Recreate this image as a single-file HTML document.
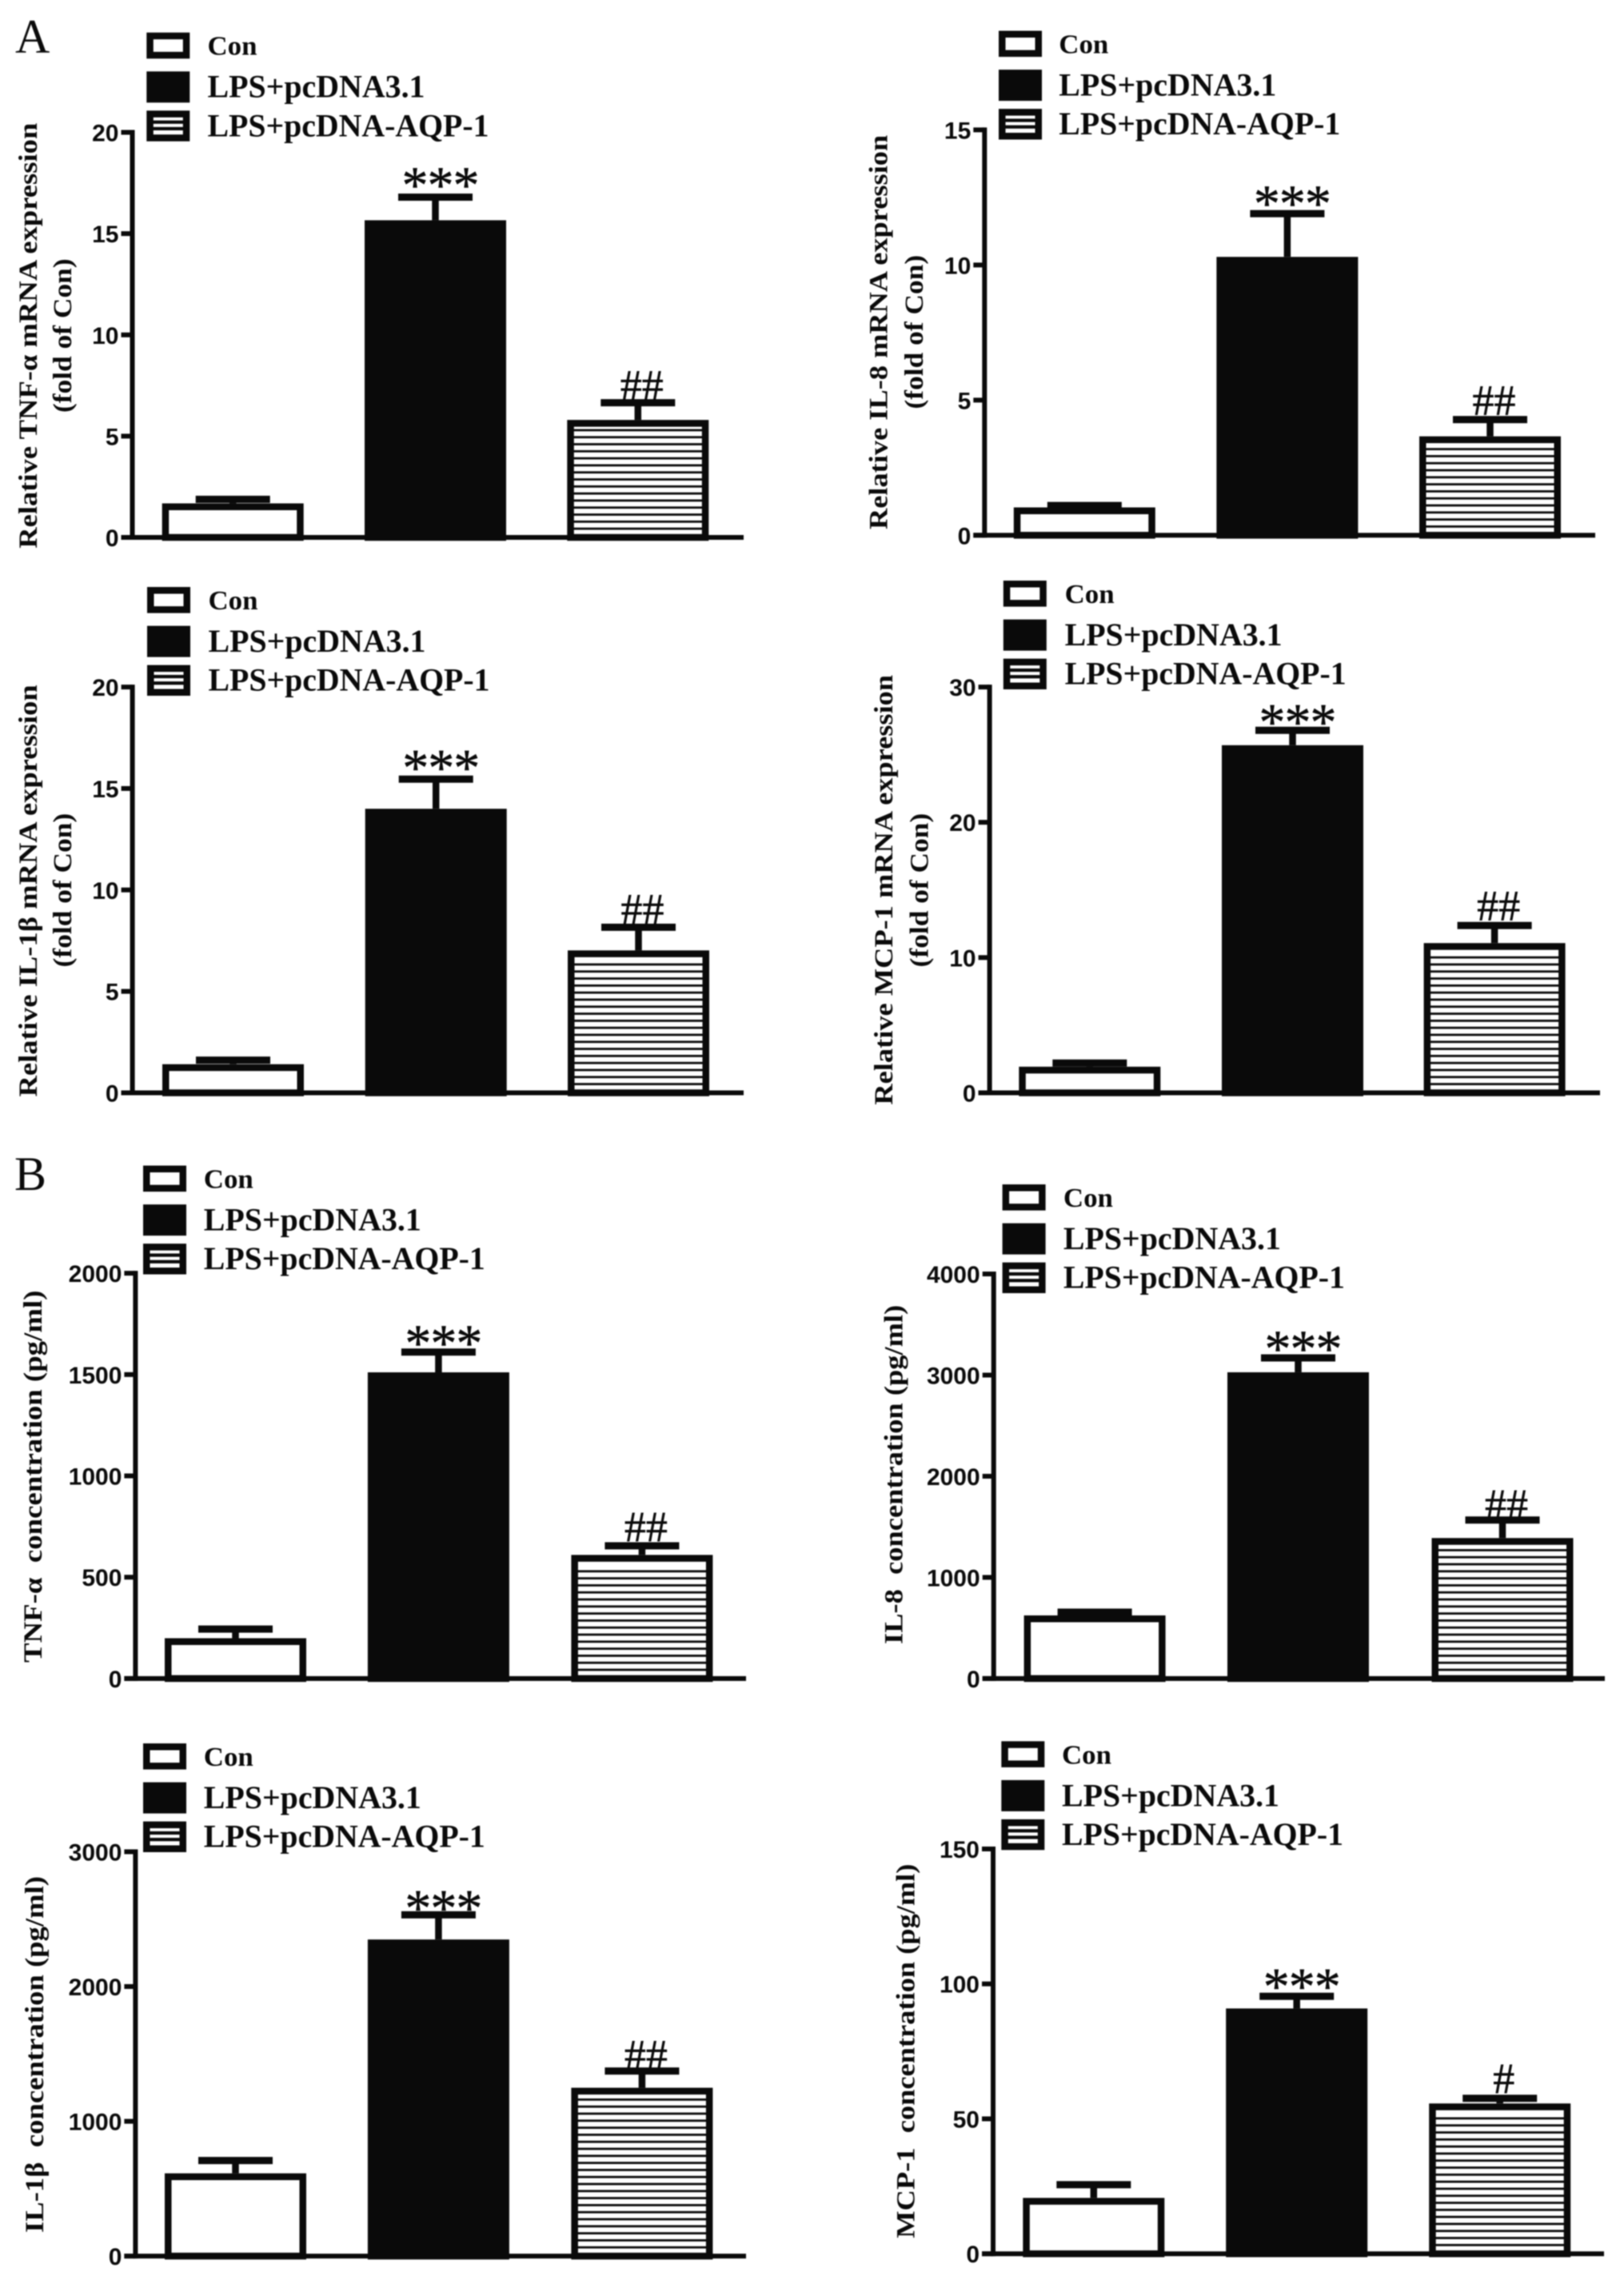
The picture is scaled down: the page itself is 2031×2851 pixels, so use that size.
<!DOCTYPE html>
<html lang="en">
<head>
<meta charset="utf-8">
<title>Cytokine mRNA expression and concentration bar charts</title>
<style>
  html, body { margin: 0; padding: 0; background: #fff; }
  #figure { display: block; width: 2031px; height: 2851px; filter: blur(0.7px); }
  .tick { font-family: "Liberation Sans", sans-serif; font-weight: 700; font-size: 30px; fill: #0a0a0a; }
  .serif { font-family: "Liberation Serif", serif; font-weight: 700; fill: #0a0a0a; }
  .mark { font-family: "Liberation Serif", serif; font-weight: 400; fill: #0a0a0a; stroke: #0a0a0a; stroke-width: 0.5px; }
</style>
</head>
<body>
<svg id="figure" xmlns="http://www.w3.org/2000/svg" width="2031" height="2851" viewBox="0 0 2031 2851">
  <rect width="2031" height="2851" fill="#fff"/>
  <text x="19" y="66" font-family="Liberation Serif, serif" font-size="60" fill="#0a0a0a">A</text>
  <text x="18" y="1488" font-family="Liberation Serif, serif" font-size="60" fill="#0a0a0a">B</text>
</svg>
<script>
// Shared categories
const categories = ['Con', 'LPS+pcDNA3.1', 'LPS+pcDNA-AQP-1'];

// Panel A: relative mRNA expression (fold of Con)
const tnfMrnaMeans = [1.68, 15.66, 5.8];
const tnfMrnaErrors = [0.2, 1.14, 0.85];
const tnfMrnaTicks = [0, 5, 10, 15, 20];
const tnfMrnaMarks = ['', '***', '##'];

const il8MrnaMeans = [1.03, 10.3, 3.66];
const il8MrnaErrors = [0.07, 1.6, 0.62];
const il8MrnaTicks = [0, 5, 10, 15];
const il8MrnaMarks = ['', '***', '##'];

const il1bMrnaMeans = [1.41, 14.0, 7.02];
const il1bMrnaErrors = [0.2, 1.46, 1.14];
const il1bMrnaTicks = [0, 5, 10, 15, 20];
const il1bMrnaMarks = ['', '***', '##'];

const mcpMrnaMeans = [1.93, 25.7, 11.07];
const mcpMrnaErrors = [0.27, 1.1, 1.3];
const mcpMrnaTicks = [0, 10, 20, 30];
const mcpMrnaMarks = ['', '***', '##'];

// Panel B: protein concentration (pg/ml)
const tnfProteinMeans = [199, 1511, 610];
const tnfProteinErrors = [45, 100, 45];
const tnfProteinTicks = [0, 500, 1000, 1500, 2000];
const tnfProteinMarks = ['', '***', '##'];

const il8ProteinMeans = [624, 3028, 1389];
const il8ProteinErrors = [32, 142, 178];
const il8ProteinTicks = [0, 1000, 2000, 3000, 4000];
const il8ProteinMarks = ['', '***', '##'];

const il1bProteinMeans = [614, 2349, 1249];
const il1bProteinErrors = [95, 183, 124];
const il1bProteinTicks = [0, 1000, 2000, 3000];
const il1bProteinMarks = ['', '***', '##'];

const mcpProteinMeans = [20.7, 90.9, 55.7];
const mcpProteinErrors = [4.9, 4.5, 1.9];
const mcpProteinTicks = [0, 50, 100, 150];
const mcpProteinMarks = ['', '***', '#'];

const SVG_NS = 'http://www.w3.org/2000/svg';
const figure = document.getElementById('figure');
const INK = '#0a0a0a';

function make(tag, attrs, parent) {
  const node = document.createElementNS(SVG_NS, tag);
  for (const key in attrs) node.setAttribute(key, attrs[key]);
  parent.appendChild(node);
  return node;
}

function drawLegend(g, p) {
  const legend = make('g', {}, g);
  
  
  const tops = [p.legendTop, p.legendTop + 48.6, p.legendTop + 97.6];
  const heights = [32.6, 39, 38.4];
  const baselines = [28, 81, 129.6];
  const widths = [62, 272, 352];
  const sizes = [34, 40, 40];
  categories.forEach(function (cat, i) {
    const swatch = make('rect', {
      x: p.legendX + 4.25, y: tops[i] + 4.25, width: 45.5, height: heights[i] - 8.5,
      fill: i === 1 ? INK : '#fff', stroke: INK, 'stroke-width': 8.5
    }, legend);
    
    
    if (i === 2) {
      [12.3, 20.5].forEach(function (off) {
        const band = make('rect', { x: p.legendX + 6, y: tops[i] + off, width: 42, height: 4.2, fill: INK }, legend);
        
        
      });
    }
    const label = make('text', {
      x: p.legendTextX, y: p.legendTop + baselines[i], 'font-size': sizes[i],
      textLength: widths[i], lengthAdjust: 'spacingAndGlyphs', class: 'serif'
    }, legend);
    label.textContent = cat;
    
    
  });
}

function drawTitle(g, line, kind) {
  const mid = (line.from + line.to) / 2;
  const title = make('text', {
    transform: 'translate(' + line.x + ',' + mid + ') rotate(-90)',
    'text-anchor': 'middle', 'font-size': 33,
    textLength: Math.abs(line.from - line.to), lengthAdjust: 'spacingAndGlyphs',
    class: 'serif'
  }, g);
  title.style.whiteSpace = 'pre';
  title.textContent = line.text;
  
  
}

function drawPanel(p) {
  const g = make('g', {}, figure);
  
  

  const maxTick = p.ticks[p.ticks.length - 1];
  const yOf = function (v) { return p.base - (v / maxTick) * (p.base - p.top); };

  // Bars, stripes and error bars
  p.means.forEach(function (mean, i) {
    const x0 = p.barX[i];
    const yTop = yOf(mean);
    const yCap = yOf(mean + p.errors[i]);
    const cx = x0 + 88.5;

    const stem = make('rect', { x: cx - 4.25, y: yCap, width: 8.5, height: yTop - yCap, fill: INK }, g);
    
    
    const cap = make('rect', { x: cx - 46.5, y: yCap - 4.5, width: 93, height: 9, fill: INK }, g);
    
    

    const bar = make('rect', {
      x: x0 + 4.25, y: yTop + 4.25, width: 168.5, height: Math.max(0, p.base - yTop - 4.25),
      fill: i === 1 ? INK : '#fff', stroke: INK, 'stroke-width': 8.5
    }, g);
    
    

    if (i === 2) {
      for (let sy = p.base - 12.3; sy > yTop + 11; sy -= 8.8) {
        const stripe = make('rect', { x: x0 + 6, y: sy, width: 165, height: 2.8, fill: INK }, g);
        
        
      }
    }

    const mark = p.marks[i];
    if (mark) {
      const isStars = mark.charAt(0) === '*';
      const note = make('text', {
        x: cx + (isStars ? 6 : 5),
        y: isStars ? yCap - p.starGap + 29.5 : yCap - p.hashGap,
        'text-anchor': 'middle',
        'font-size': isStars ? 66 : 54,
        'letter-spacing': isStars ? '-1' : '0',
        class: 'mark'
      }, g);
      note.textContent = mark;
      
      
    }
  });

  // Axes
  const yAxis = make('rect', { x: p.axisX - 3, y: p.top - 3, width: 6, height: p.base - p.top + 6, fill: INK }, g);
  
  
  const xAxis = make('rect', { x: p.axisX - 14, y: p.base - 3, width: p.axisEnd - p.axisX + 14, height: 6, fill: INK }, g);
  
  

  p.ticks.forEach(function (t) {
    const ty = yOf(t);
    const tick = make('rect', { x: p.axisX - 14, y: ty - 3, width: 14, height: 6, fill: INK }, g);
    
    
    const label = make('text', { x: p.axisX - 17, y: ty + 11, 'text-anchor': 'end', class: 'tick' }, g);
    label.textContent = String(t);
    
    
  });

  p.titles.forEach(function (line) { drawTitle(g, line, 'y-axis-title'); });
  drawLegend(g, p);
}

drawPanel({
  name: 'chart-tnf-mrna', means: tnfMrnaMeans, errors: tnfMrnaErrors, ticks: tnfMrnaTicks, marks: tnfMrnaMarks,
  axisX: 165.5, axisEnd: 930, top: 165.5, base: 672, barX: [202.7, 456, 709.3],
  legendX: 183.3, legendTextX: 259.5, legendTop: 40.7, starGap: 22.6, hashGap: 4,
  titles: [
    { text: 'Relative TNF-α mRNA expression', x: 45.9, from: 685.8, to: 153.7 },
    { text: '(fold of Con)', x: 89.2, from: 516, to: 323.4 }
  ]
});
drawPanel({
  name: 'chart-il8-mrna', means: il8MrnaMeans, errors: il8MrnaErrors, ticks: il8MrnaTicks, marks: il8MrnaMarks,
  axisX: 1231.3, axisEnd: 1995, top: 162.4, base: 669.3, barX: [1267.8, 1521.4, 1775],
  legendX: 1249, legendTextX: 1324.3, legendTop: 38.5, starGap: 20, hashGap: 6,
  titles: [
    { text: 'Relative IL-8 mRNA expression', x: 1109.6, from: 662, to: 168.8 },
    { text: '(fold of Con)', x: 1154.2, from: 511.5, to: 318.8 }
  ]
});
drawPanel({
  name: 'chart-il1b-mrna', means: il1bMrnaMeans, errors: il1bMrnaErrors, ticks: il1bMrnaTicks, marks: il1bMrnaMarks,
  axisX: 165.6, axisEnd: 930, top: 859.1, base: 1366.5, barX: [203, 456.7, 710],
  legendX: 184, legendTextX: 260.5, legendTop: 734, starGap: 22, hashGap: 5,
  titles: [
    { text: 'Relative IL-1β mRNA expression', x: 45.9, from: 1371.5, to: 856.3 },
    { text: '(fold of Con)', x: 89.2, from: 1209.5, to: 1016.9 }
  ]
});
drawPanel({
  name: 'chart-mcp1-mrna', means: mcpMrnaMeans, errors: mcpMrnaErrors, ticks: mcpMrnaTicks, marks: mcpMrnaMarks,
  axisX: 1237.6, axisEnd: 2001, top: 859.1, base: 1366.5, barX: [1274.3, 1528, 1780.6],
  legendX: 1254.8, legendTextX: 1331.6, legendTop: 726, starGap: 17.5, hashGap: 7,
  titles: [
    { text: 'Relative MCP-1 mRNA expression', x: 1116, from: 1381.6, to: 843.9 },
    { text: '(fold of Con)', x: 1160.6, from: 1209.5, to: 1016.9 }
  ]
});
drawPanel({
  name: 'chart-tnf-protein', means: tnfProteinMeans, errors: tnfProteinErrors, ticks: tnfProteinTicks, marks: tnfProteinMarks,
  axisX: 169.4, axisEnd: 933, top: 1592.1, base: 2098.9, barX: [206, 459.9, 714.4],
  legendX: 179, legendTextX: 254.8, legendTop: 1457.5, starGap: 18.5, hashGap: 6,
  titles: [
    { text: 'TNF-α  concentration (pg/ml)', x: 52.2, from: 2079, to: 1613.5 }
  ]
});
drawPanel({
  name: 'chart-il8-protein', means: il8ProteinMeans, errors: il8ProteinErrors, ticks: il8ProteinTicks, marks: il8ProteinMarks,
  axisX: 1242.7, axisEnd: 2007, top: 1593, base: 2098.9, barX: [1280.6, 1535, 1790.5],
  legendX: 1253.6, legendTextX: 1329.9, legendTop: 1481, starGap: 19, hashGap: 1.5,
  titles: [
    { text: 'IL-8  concentration (pg/ml)', x: 1128.7, from: 2056, to: 1631.8 }
  ]
});
drawPanel({
  name: 'chart-il1b-protein', means: il1bProteinMeans, errors: il1bProteinErrors, ticks: il1bProteinTicks, marks: il1bProteinMarks,
  axisX: 169.4, axisEnd: 933, top: 2315.5, base: 2821.1, barX: [206, 459.9, 714.4],
  legendX: 179, legendTextX: 254.8, legendTop: 2180, starGap: 16, hashGap: 2,
  titles: [
    { text: 'IL-1β  concentration (pg/ml)', x: 54.1, from: 2792, to: 2346 }
  ]
});
drawPanel({
  name: 'chart-mcp1-protein', means: mcpProteinMeans, errors: mcpProteinErrors, ticks: mcpProteinTicks, marks: mcpProteinMarks,
  axisX: 1242, axisEnd: 2006, top: 2312, base: 2818.2, barX: [1279.3, 1533.2, 1787.2],
  legendX: 1252.3, legendTextX: 1328, legendTop: 2177.3, starGap: 20, hashGap: 7,
  titles: [
    { text: 'MCP-1  concentration (pg/ml)', x: 1143.4, from: 2798.7, to: 2330.6 }
  ]
});
</script>
</body>
</html>
